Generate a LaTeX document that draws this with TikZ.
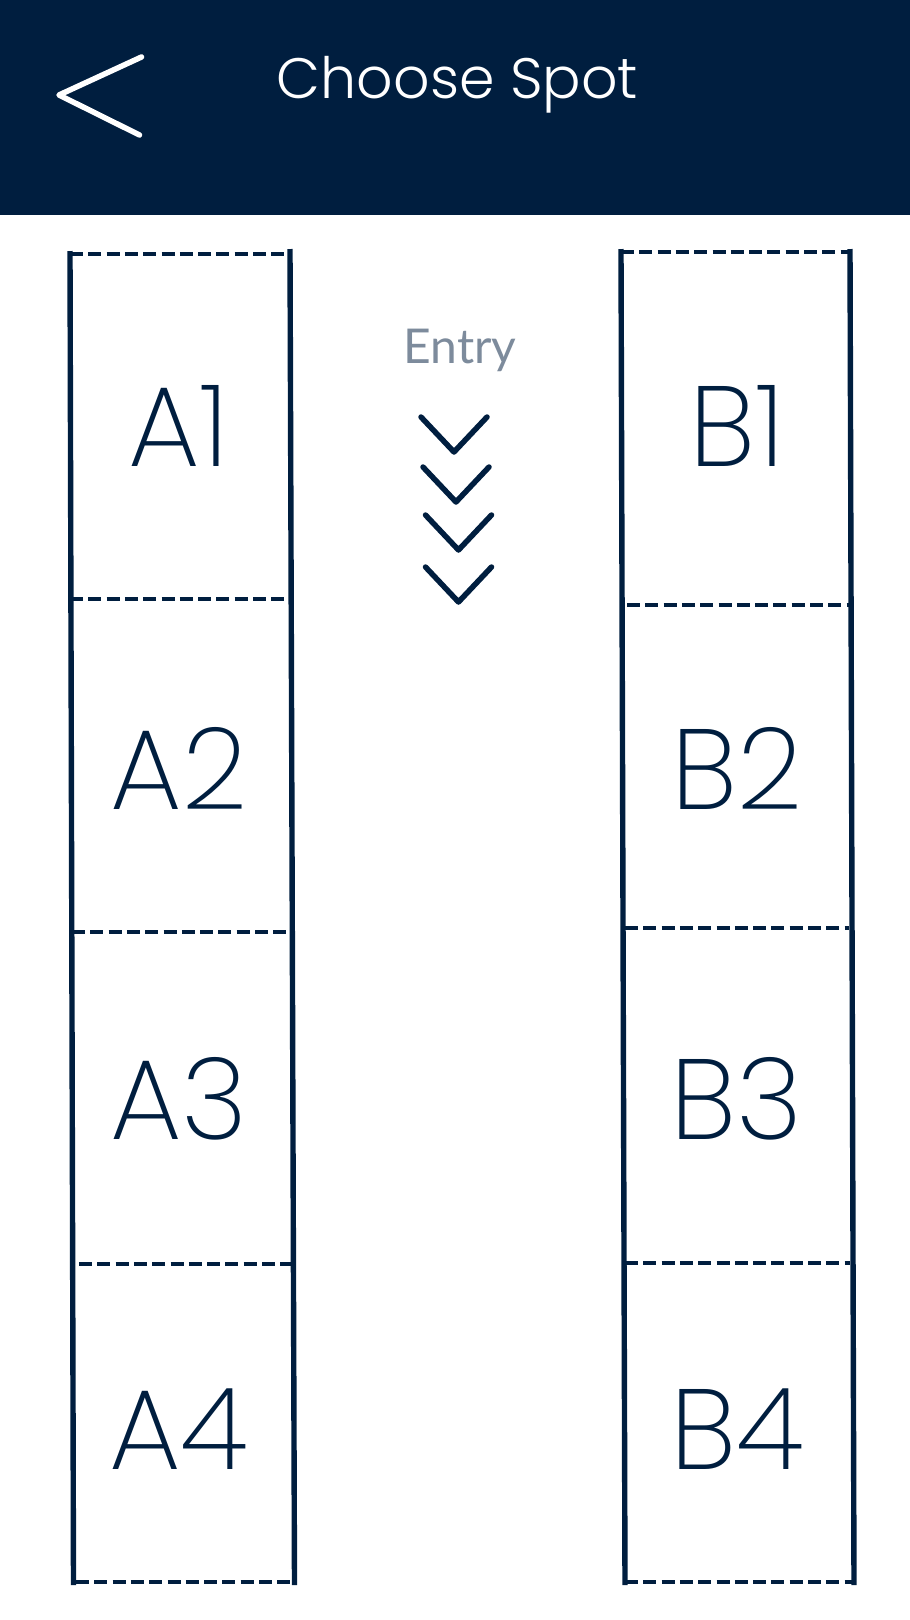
\documentclass[tikz,border=0pt]{standalone}
\usepackage{fontspec}
\setmainfont{Poppins}
\newfontfamily\lightfont{Poppins ExtraLight}
\newfontfamily\titlefont{Poppins Light}
\newfontfamily\entryfont{Lato}

\definecolor{navy}{HTML}{001E3F}
\definecolor{entrygray}{HTML}{7D8B9C}

\tikzset{
  wall/.style={line width=5.4pt, navy},
  divider/.style={line width=4.8pt, navy, dash pattern=on 13pt off 5.3pt},
  chevron/.style={line width=5.5pt, navy, line cap=round, line join=round},
  spotlabel/.style={text=navy, anchor=base, inner sep=0pt, font=\lightfont\fontsize{114}{114}\selectfont},
}

\begin{document}
\begin{tikzpicture}[x=1pt,y=-1pt]
	\useasboundingbox (0,0) rectangle (910,1620);
	% header bar
	\fill [navy] (0,0) rectangle (910,215);
	\draw [line width=5.5pt, white, line cap=round, line join=round] (141.5,57) -- (59,95) -- (139.5,135);
	\node [text=white, anchor=base, inner sep=0pt, font=\titlefont\fontsize{57}{57}\selectfont] (title) at (457.6,98) {Choose Spot};

	% row A
	\draw [wall] (70,251) -- (73.5,1585);
	\draw [wall] (290,249) -- (294.5,1585);
	\draw [divider] (70,254) -- (290,254);
	\draw [divider] (70,599) -- (287,599);
	\draw [divider] (72,932) -- (288,932);
	\draw [divider] (79,1264) -- (297,1264);
	\draw [divider] (76,1582) -- (293,1582);

	% row B
	\draw [wall] (621,249) -- (625,1585);
	\draw [wall] (850,249) -- (854,1585);
	\draw [divider] (621,252) -- (850,252);
	\draw [divider] (627,605) -- (849,605);
	\draw [divider] (625,928) -- (849,928);
	\draw [divider] (625,1263) -- (850,1263);
	\draw [divider] (625,1582) -- (853,1582);

	\foreach \n/\y in {1/466,2/809,3/1139,4/1469} {
		\node [spotlabel] (a\n) at (179,\y) {A\n};
		\node [spotlabel] (b\n) at (737,\y) {B\n};
	}

	% entry
	\node [text=entrygray, anchor=base, inner sep=0pt, font=\entryfont\fontsize{48}{48}\selectfont] (entry) at (460,363) {Entry};
	\foreach \cx/\cy in {454/417, 456/467, 458.5/515, 458.5/567}
		\draw [chevron] (\cx-33,\cy) -- (\cx,\cy+35) -- (\cx+33,\cy);
\end{tikzpicture}
\end{document}
